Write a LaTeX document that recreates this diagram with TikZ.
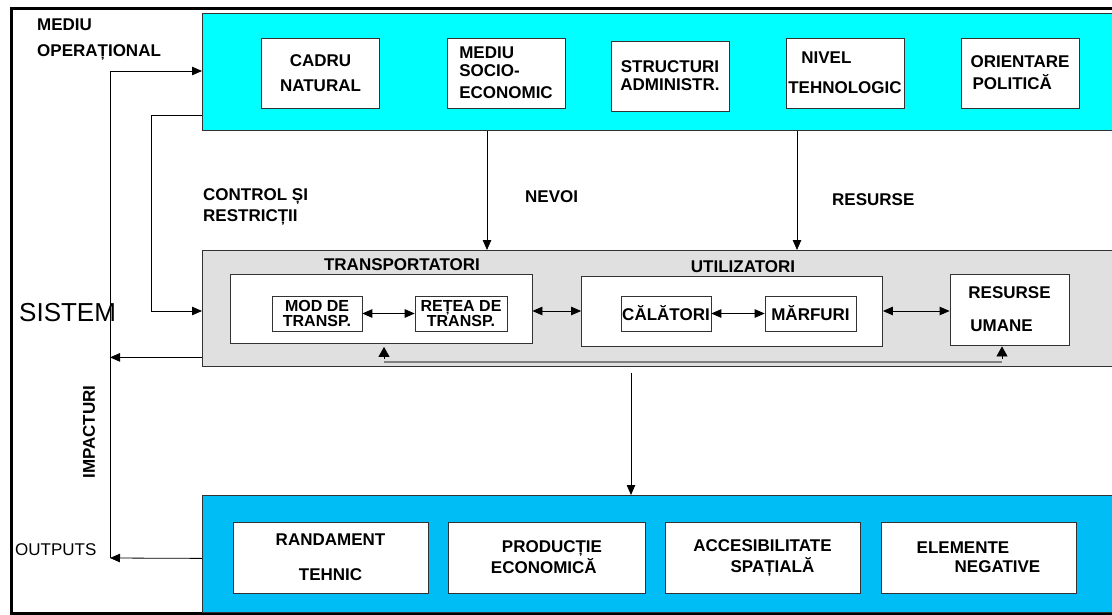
\documentclass[tikz,border=0pt]{standalone}
\usepackage{fontspec}
\setmainfont{Liberation Sans}
\usetikzlibrary{arrows.meta,positioning}
\definecolor{topcyan}{RGB}{0,255,255}
\definecolor{midgray}{RGB}{224,224,224}
\definecolor{botblue}{RGB}{0,190,245}
\definecolor{edgegray}{RGB}{50,50,50}
\newcommand{\lbl}{\bfseries\fontsize{17}{18}\selectfont}
\tikzset{
	>={Triangle[length=10pt,width=8.5pt]},
	arr/.style={->, line width=0.8pt},
	dblarr/.style={<->, line width=0.8pt},
	uparr/.style={-{Triangle[length=10pt,width=11pt]}, line width=0.8pt},
	feedline/.style={draw=gray, line width=1.4pt},
	band/.style={draw=edgegray, line width=0.8pt, anchor=north west, minimum width=920pt},
	box/.style={draw=edgegray, fill=white, line width=0.8pt, inner sep=0pt, align=center, font=\lbl},
	smallbox/.style={box, line width=0.6pt, minimum height=35pt, font=\bfseries\fontsize{16}{15}\selectfont},
	txt/.style={font=\lbl, inner sep=0pt},
}

\begin{document}
\begin{tikzpicture}[x=1pt,y=-1pt]
	\useasboundingbox (0,0) rectangle (1112,615);
	% frame
	\draw[line width=3pt] (1112,8.5) -- (11.5,8.5) -- (11.5,614);
	\draw[line width=2.5pt] (10,613.5) -- (1112,613.5);

	% three bands
	\node[band, fill=topcyan, minimum height=117pt] (mediu) at (202,13) {};
	\node[band, fill=midgray, minimum height=116pt] (sistembox) at (202,250) {};
	\node[band, fill=botblue, minimum height=117pt] (outbox) at (202,495) {};

	% operational environment
	\node[box, minimum width=118pt, minimum height=70pt] (cadru) at (320.5,73) {CADRU\\[7pt]NATURAL};
	\node[box, minimum width=118pt, minimum height=70pt, align=left] (socio) at (506,73) {MEDIU\\[0pt]SOCIO-\\[4pt]ECONOMIC};
	\node[box, minimum width=118pt, minimum height=70pt] (admin) at (670,76) {STRUCTURI\\ADMINISTR.};
	\node[box, minimum width=118pt, minimum height=70pt, align=left] (tehno) at (845,73) {\hspace*{13pt}NIVEL\\[12pt]TEHNOLOGIC};
	\node[box, minimum width=118pt, minimum height=70pt, align=left] (polit) at (1020,73) {ORIENTARE\\[4pt]\hspace*{2pt}POLITICĂ};

	% system
	\node[box, minimum width=302pt, minimum height=69pt] (transp) at (381,309) {};
	\node[box, minimum width=301pt, minimum height=70pt] (util) at (732,311) {};
	\node[smallbox, minimum width=90pt] (modt) at (317,313.5) {MOD DE\\TRANSP.};
	\node[smallbox, minimum width=92pt] (retea) at (461,313.5) {REȚEA DE\\TRANSP.};
	\node[smallbox, minimum width=90pt, font=\lbl] (calat) at (666,313.5) {CĂLĂTORI};
	\node[smallbox, minimum width=91pt, font=\lbl] (marf) at (810.5,313.5) {MĂRFURI};
	\node[box, minimum width=119pt, minimum height=71pt, align=left] (uman) at (1009.5,309.5) {RESURSE\\[15pt]\hspace*{2pt}UMANE};
	\node[txt] (transptxt) at (402,265) {TRANSPORTATORI};
	\node[txt] (utiltxt) at (743,267) {UTILIZATORI};

	% outputs
	\node[box, minimum width=195pt, minimum height=71pt] (randam) at (330.5,557.5) {RANDAMENT\\[17pt]TEHNIC};
	\node[box, minimum width=197pt, minimum height=71pt, align=left] (prod) at (546.5,557.5) {\hspace*{11pt}PRODUCȚIE\\[1pt]ECONOMICĂ};
	\node[box, minimum width=195pt, minimum height=71pt] (acces) at (762.5,557.5) {ACCESIBILITATE\\[3pt]\hspace*{20pt}SPAȚIALĂ};
	\node[box, minimum width=195pt, minimum height=71pt, align=left] (elem) at (978.5,557.5) {ELEMENTE\\[1pt]\hspace*{38pt}NEGATIVE};

	% side texts
	\node[txt, anchor=west, align=left, font=\bfseries\fontsize{17}{26}\selectfont] (opname) at (37,40) {MEDIU\\OPERAȚIONAL};
	\node[txt, anchor=west, align=left, font=\bfseries\fontsize{17}{21}\selectfont] (ctrltxt) at (203,207) {CONTROL ȘI\\RESTRICȚII};
	\node[txt, anchor=west] (nevoitxt) at (525,197) {NEVOI};
	\node[txt, anchor=west] (resurstxt) at (832,200) {RESURSE};
	\node[txt, anchor=west, font=\fontsize{26}{28}\selectfont] (sisttxt) at (19,313) {SISTEM};
	\node[txt, rotate=90] (imptxt) at (89,432) {IMPACTURI};
	\node[txt, anchor=west, font=\fontsize{17}{18}\selectfont] (outtxt) at (15,550) {OUTPUTS};

	% connectors
	\coordinate (loopt) at (110,71);
	\coordinate (loopb) at (110,558);
	\coordinate (ctrl) at (151,311);
	\draw[line width=0.8pt] (loopb) -- (loopt);
	\draw[arr] (loopt) -- (loopt -| mediu.west);
	\draw[arr] ([yshift=-43.5pt]mediu.west) -| (ctrl) -- (ctrl -| sistembox.west);
	\draw[arr] (mediu.south -| 487,0) -- (sistembox.north -| 487,0);
	\draw[arr] (mediu.south -| 797,0) -- (sistembox.north -| 797,0);
	\draw[arr] ([yshift=-49pt]sistembox.west) -- ([yshift=-49pt]sistembox.west -| loopb);
	\draw[arr] ([yshift=-4.5pt]outbox.west) -- (loopb);
	\draw[arr] ([yshift=-6pt]sistembox.south -| 631,0) -- (outbox.north -| 631,0);

	\draw[dblarr] (modt) -- (retea);
	\draw[dblarr] (calat) -- (marf);
	\draw[dblarr] (util.west -| transp.east) -- (util.west);
	\draw[dblarr] (util.east) -- (util.east -| uman.west);

	% feedback
	\coordinate (fbl) at (384,362);
	\coordinate (fbr) at (1002,362);
	\draw[feedline] (fbl) -- (fbr);
	\draw[uparr] ([yshift=3pt]fbl) -- ([yshift=-3pt]fbl |- transp.south);
	\draw[uparr] ([yshift=3pt]fbr) -- ([yshift=-1pt]fbr |- uman.south);
\end{tikzpicture}
\end{document}
